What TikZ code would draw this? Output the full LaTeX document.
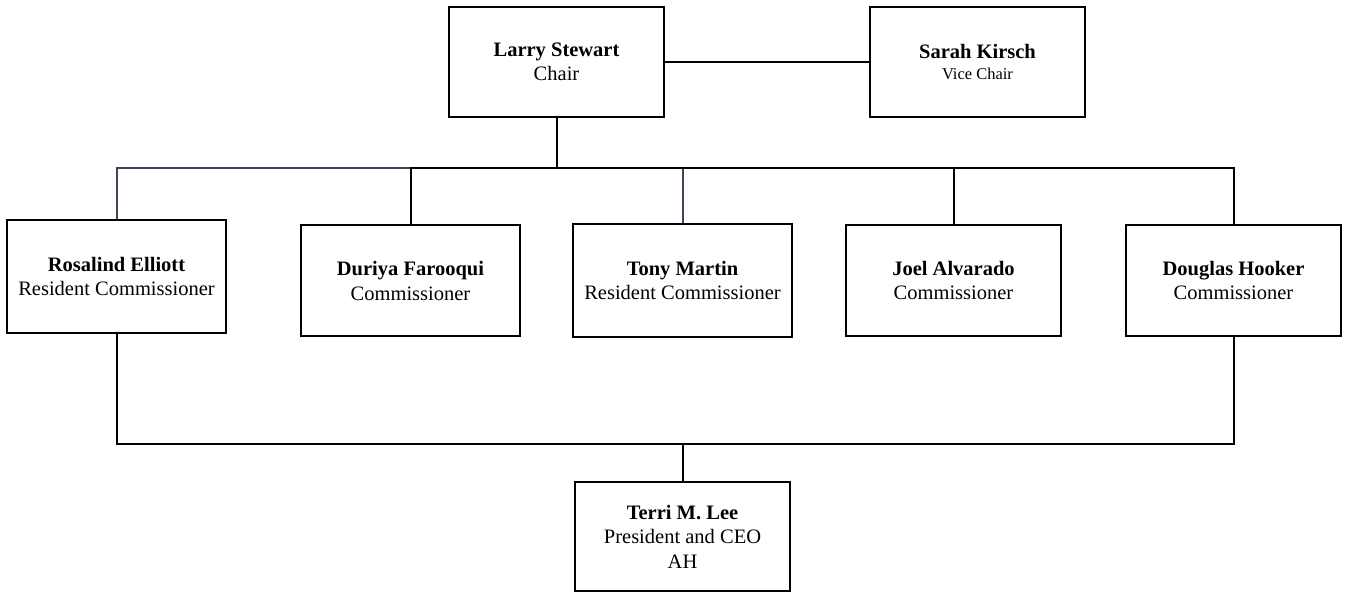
\documentclass[tikz,border=0pt]{standalone}
\usepackage{fontspec}
\setmainfont{Liberation Serif}
\definecolor{busgrey}{RGB}{66,66,88}
\newcommand{\boxfont}{\fontsize{20.5}{24.5}\selectfont}
\newcommand{\smallrole}{\fontsize{16.5}{19}\selectfont}
\begin{document}
\begin{tikzpicture}[x=1pt, y=-1pt, line width=2pt,
    member/.style={draw, rectangle, minimum width=217pt, minimum height=111pt,
        align=center, font=\boxfont, inner sep=0pt},
    greyline/.style={draw=busgrey, line width=2pt}]
            \useasboundingbox (0, 0) rectangle (1345, 593);

            % board officers
            \node[member, minimum width=215pt, minimum height=110pt] (larry) at (556.5, 62) {\textbf{Larry Stewart}\\Chair};
            \node[member, minimum width=215pt, minimum height=110pt] (sarah) at (977.5, 62) {\textbf{Sarah Kirsch}\\[-3pt]{\smallrole Vice Chair}};

            % commissioners
            \node[member, minimum width=219pt, minimum height=113pt] (rosalind) at (116.5, 276.5) {\textbf{Rosalind Elliott}\\Resident Commissioner};
            \node[member, minimum width=219pt] (duriya) at (410.5, 281) {\textbf{Duriya Farooqui}\\Commissioner};
            \node[member, minimum width=219pt, minimum height=113pt] (tony) at (682.5, 280.5) {\textbf{Tony Martin}\\Resident Commissioner};
            \node[member, minimum width=215pt] (joel) at (953.5, 280.5) {\textbf{Joel Alvarado}\\Commissioner};
            \node[member, minimum width=215pt] (douglas) at (1233.5, 280.5) {\textbf{Douglas Hooker}\\Commissioner};

            % chief executive
            \node[member, minimum width=215pt, minimum height=109pt] (terri) at (682.5, 536.5) {\textbf{Terri M. Lee}\\President and CEO\\AH};

            \coordinate (bus) at (556.5, 168);
            \coordinate (low) at (682.5, 444);

            \draw (larry.east) -- (sarah.west);
            \draw (larry.south) -- (bus);
            \draw[greyline] (bus) -| (tony.north);
            \draw[greyline] (duriya.north |- bus) -| (rosalind.north);
            \draw (bus) -| (duriya.north);
            \draw (bus) -| (joel.north);
            \draw (bus) -| (douglas.north);

            \draw (rosalind.south) |- (low) -| (douglas.south);
            \draw (low) -- (terri.north);
        \end{tikzpicture}
\end{document}
